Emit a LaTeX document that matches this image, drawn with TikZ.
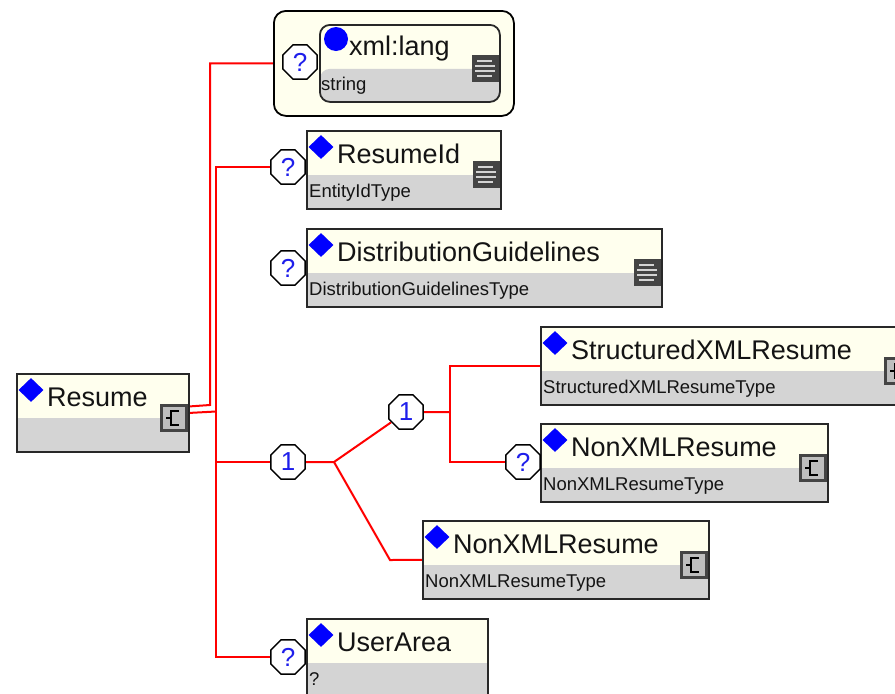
\documentclass[tikz,border=0pt]{standalone}
\usepackage{fontspec}
\setmainfont{Liberation Sans}
\usetikzlibrary{shapes.geometric}
\pgfdeclarelayer{bg}
\pgfsetlayers{bg,main}
\definecolor{cream}{RGB}{255,255,238}
\definecolor{typegray}{RGB}{212,212,212}
\definecolor{boxline}{RGB}{40,40,40}
\definecolor{icondark}{RGB}{68,68,68}
\definecolor{qblue}{RGB}{30,30,235}
\tikzset{
    elem/.style={draw=boxline, line width=1.8pt, fill=cream, minimum height=78pt, inner sep=0pt,
        path picture={\fill[typegray] ([yshift=-44pt]path picture bounding box.north west) rectangle (path picture bounding box.south east);}},
    langouter/.style={draw=black, line width=1.8pt, fill=cream, rounded corners=12pt, inner sep=0pt},
    eltitle/.style={anchor=base west, inner sep=0pt, text={rgb,255:red,20;green,20;blue,20}, font=\fontsize{27}{30}\selectfont},
    eltype/.style={anchor=base west, inner sep=0pt, text={rgb,255:red,20;green,20;blue,20}, font=\fontsize{18.5}{20}\selectfont},
    diam/.style={diamond, fill=blue, inner sep=0pt, minimum width=25pt, minimum height=24pt},
    attr/.style={circle, fill=blue, inner sep=0pt, minimum size=24pt},
    oct/.style={regular polygon, regular polygon sides=8, draw=black, line width=1.5pt, fill=white,
        inner sep=0pt, minimum size=37pt, text=qblue, font=\fontsize{26}{26}\selectfont},
    wire/.style={draw=red, line width=2pt},
    listbox/.style={fill=icondark, inner sep=0pt, minimum size=27pt},
    listbar/.style={draw=typegray, line width=2.2pt},
    cplxbox/.style={draw=icondark, line width=2.5pt, fill={rgb,255:red,190;green,190;blue,190}, inner sep=0pt, minimum size=25pt},
    glyph/.style={draw=black, line width=2.4pt}
}
\newcommand{\element}[6]{%
    \node[elem, anchor=north west, minimum width=#4pt] (#1) at (#2,#3) {};
    \node[diam] (#1-d) at ([shift={(15pt,-17pt)}]#1.north west) {};
    \node[eltitle] (#1-t) at ([shift={(31pt,-33pt)}]#1.north west) {#5};
    \node[eltype] (#1-ty) at ([shift={(3pt,-67pt)}]#1.north west) {#6};
}
\newcommand{\listicon}[1]{%
    \node[listbox, anchor=north east] (#1-i) at ([shift={(-2pt,-31pt)}]#1.north east) {};
    \foreach \bary/\barx/\barlen in {6/6/15, 11/4/20, 16/4/20, 21/6/15}
        \draw[listbar] ([shift={(\barx pt,-\bary pt)}]#1-i.north west) -- ++(\barlen pt,0pt);
}
\newcommand{\cplxicon}[1]{%
    \node[cplxbox, anchor=north east] (#1-i) at ([shift={(-2pt,-31pt)}]#1.north east) {};
    \draw[glyph] ([shift={(5pt,7pt)}]#1-i.center) -- ++(-8pt,0pt) -- ++(0pt,-14pt) -- ++(8pt,0pt);
    \draw[glyph] ([shift={(-8pt,0pt)}]#1-i.center) -- ++(5pt,0pt);
}

\begin{document}
\begin{tikzpicture}[x=1pt, y=-1pt]
    \useasboundingbox (0,0) rectangle (895,694);

    % attribute group
    \node[langouter, anchor=north west, minimum width=240pt, minimum height=105pt] (langbox) at (273,10) {};
    \node[elem, rounded corners=10pt, anchor=north west, minimum width=180pt, minimum height=77pt] (lang) at (319,24) {};
    \node[attr] (lang-d) at ([shift={(17pt,-15pt)}]lang.north west) {};
    \node[eltitle] (lang-t) at ([shift={(30pt,-31pt)}]lang.north west) {xml:lang};
    \node[eltype] (lang-ty) at ([shift={(2pt,-66pt)}]lang.north west) {string};
    \listicon{lang}
    \node[oct] (qlang) at (300,62) {?};

    % elements
    \element{resume}{16}{373}{172}{Resume}{}
    \cplxicon{resume}
    \element{rid}{306}{130}{194}{ResumeId}{EntityIdType}
    \listicon{rid}
    \element{dist}{306}{228}{355}{DistributionGuidelines}{DistributionGuidelinesType}
    \listicon{dist}
    \element{sxml}{540}{326}{372}{StructuredXMLResume}{StructuredXMLResumeType}
    \cplxicon{sxml}
    \element{nxa}{540}{423}{287}{NonXMLResume}{NonXMLResumeType}
    \cplxicon{nxa}
    \element{nxb}{422}{520}{286}{NonXMLResume}{NonXMLResumeType}
    \cplxicon{nxb}
    \element{uarea}{306}{618}{181}{UserArea}{?}

    % occurrence markers
    \node[oct] (qrid) at (288,167) {?};
    \node[oct] (qdist) at (288,268) {?};
    \node[oct] (one) at (288,462) {1};
    \node[oct] (two) at (406,412) {1};
    \node[oct] (qnxa) at (523,462) {?};
    \node[oct] (quser) at (288,657) {?};

    \coordinate (up) at (210,405);
    \coordinate (trunk) at (216,411.5);
    \coordinate (fork) at (334,462);
    \coordinate (split) at (450,412);
    \coordinate (bend) at (390,560);

    \begin{pgfonlayer}{bg}
        \fill[white] (0,0) rectangle (895,694);
        \draw[wire] ([yshift=6.5pt]resume.east) -- (up) |- (langbox.west);
        \draw[wire] (resume.east) -- (trunk);
        \draw[wire] (trunk) |- (qrid);
        \draw[wire] (trunk) |- (one);
        \draw[wire] (trunk) |- (quser);
        \draw[wire] (one) -- (fork) -- (two);
        \draw[wire] (fork) -- (bend) -- (nxb.west);
        \draw[wire] (two) -- (split);
        \draw[wire] (split) |- (sxml.west);
        \draw[wire] (split) |- (qnxa);
    \end{pgfonlayer}
\end{tikzpicture}
\end{document}
